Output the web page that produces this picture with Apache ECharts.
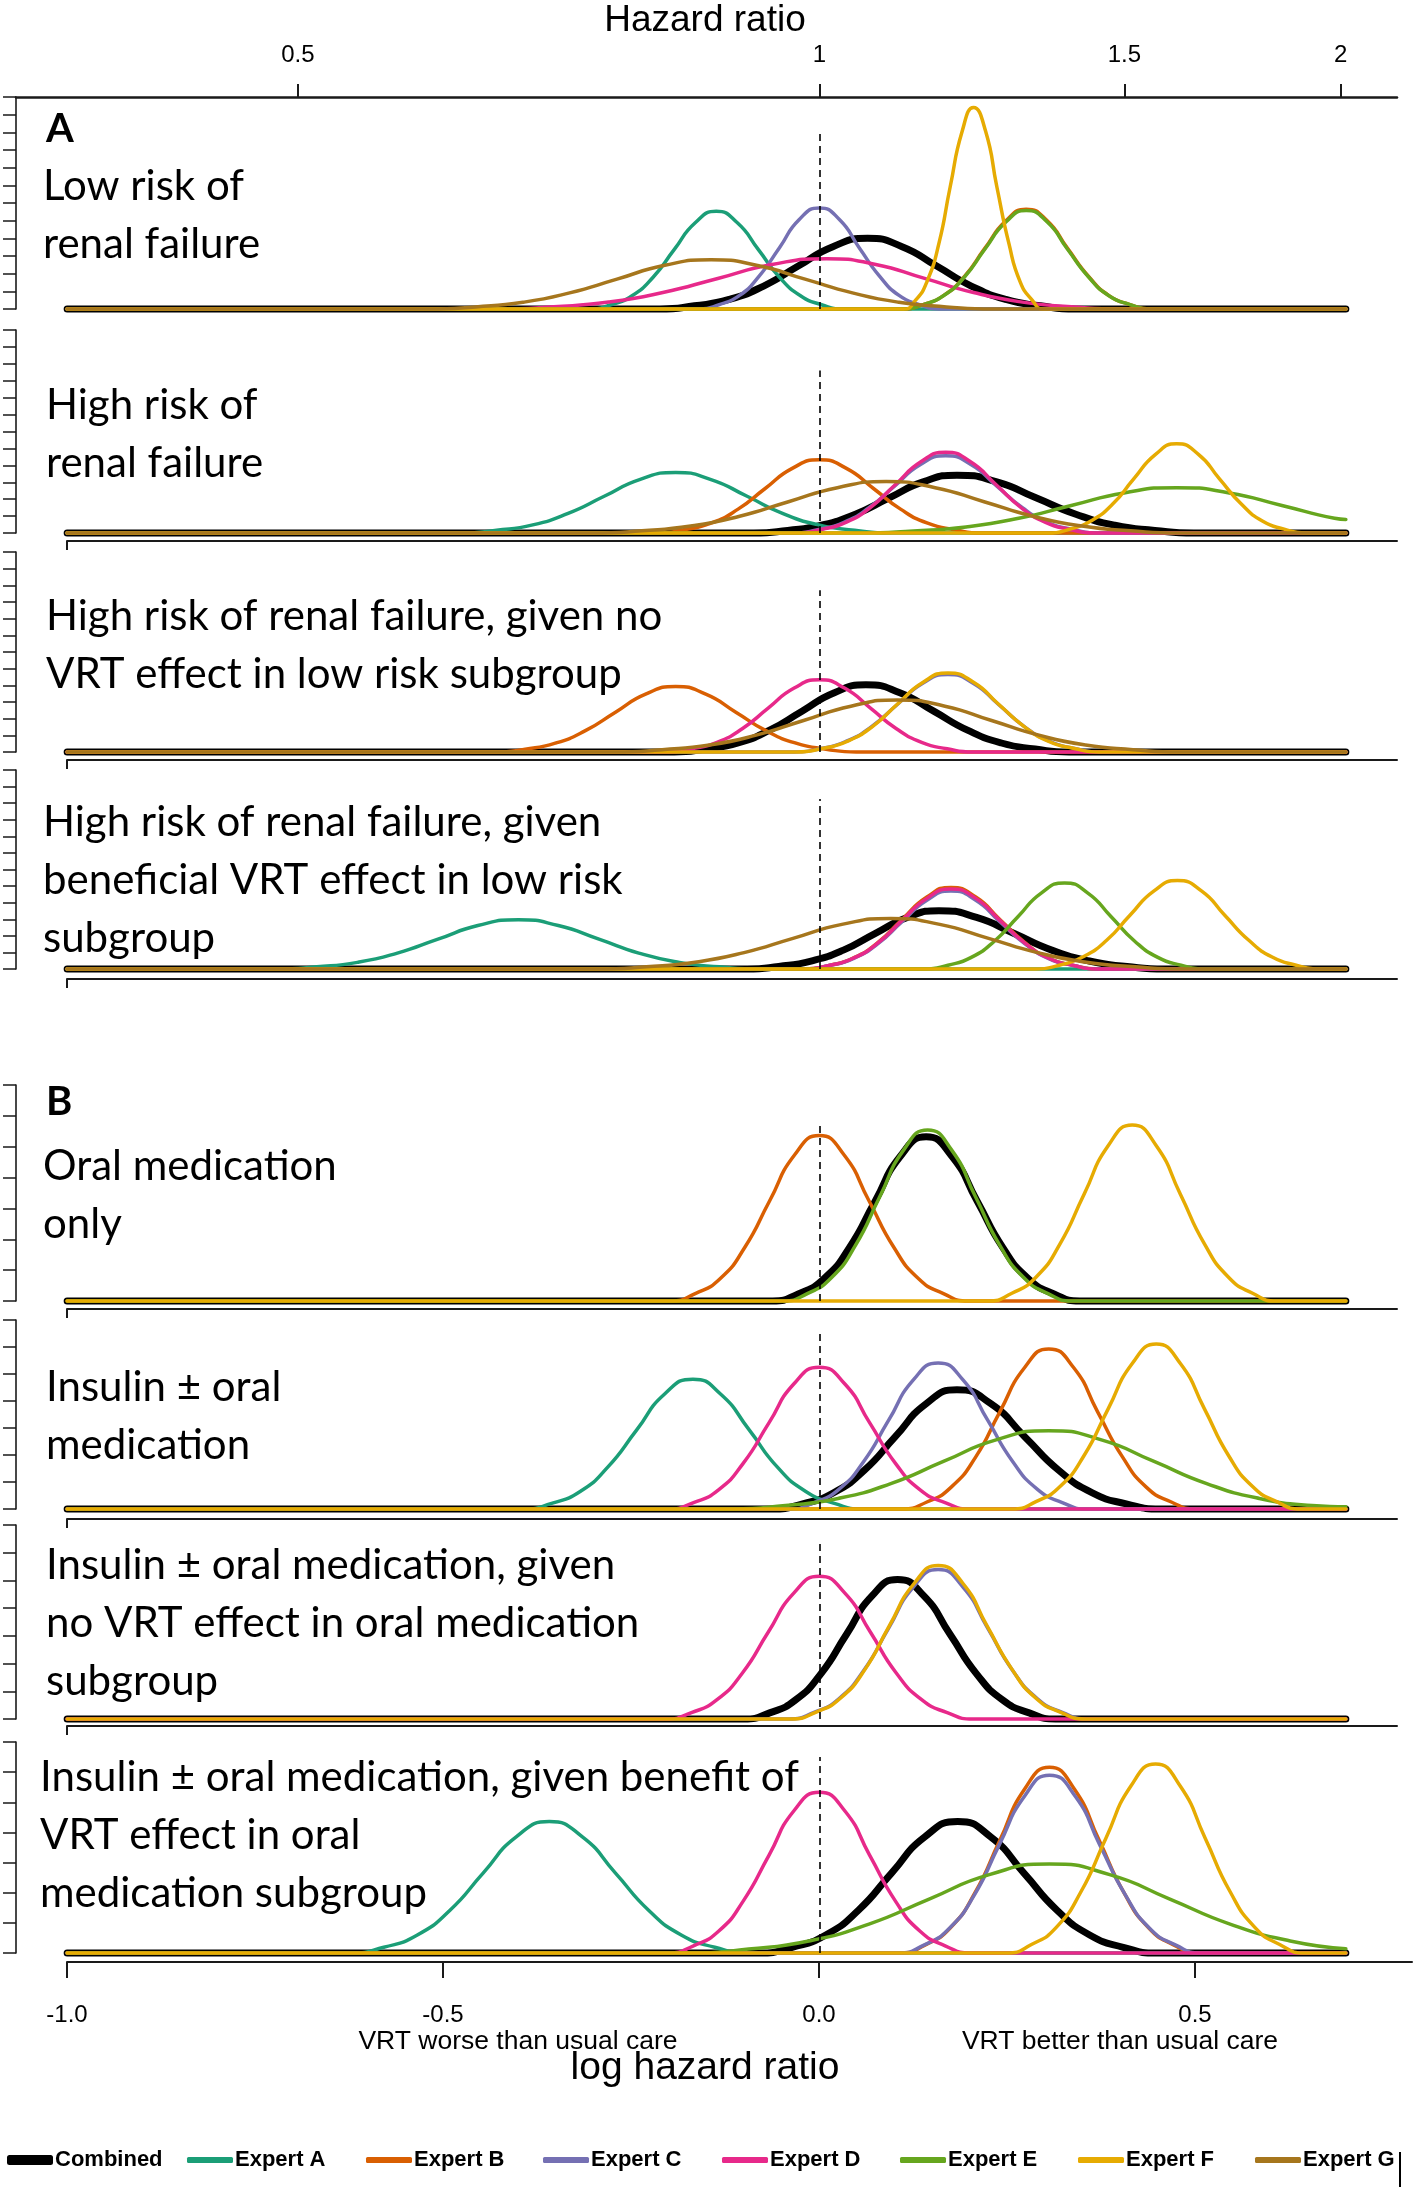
<!DOCTYPE html>
<html><head><meta charset="utf-8">
<script src="https://cdn.jsdelivr.net/npm/echarts@6/dist/echarts.min.js"></script>
<style>html,body{margin:0;padding:0;background:#fff}#c{width:1418px;height:2193px}</style>
</head><body><div id="c"></div>
<script>
// ---------------- DATA ----------------
const XMIN_DATA = -1.0, XMAX_DATA = 0.7;
const hrTicks = [0.5, 1, 1.5, 2];
const logTicks = [-1.0, -0.5, 0.0, 0.5];
const seriesNames = ['Combined','Expert A','Expert B','Expert C','Expert D','Expert E','Expert F','Expert G'];
const colors = ['#000000','#1B9E77','#D95F02','#7570B3','#E7298A','#66A61E','#E6AB02','#A6761D'];

// A1: Low risk of renal failure  [log HR, density]
const A1_Combined = [[-0.212,0],[-0.166,0.18],[-0.120,0.54],[-0.074,1.30],[-0.028,2.43],[0.018,3.53],[0.064,4.0],[0.110,3.53],[0.156,2.43],[0.202,1.30],[0.248,0.54],[0.294,0.18],[0.340,0]];
const A1_ExpertA = [[-0.305,0],[-0.277,0.24],[-0.249,0.75],[-0.221,1.80],[-0.193,3.36],[-0.165,4.88],[-0.137,5.53],[-0.109,4.88],[-0.081,3.36],[-0.053,1.80],[-0.025,0.75],[0.003,0.24],[0.031,0]];
const A1_ExpertB = [[0.110,0],[0.138,0.25],[0.165,0.76],[0.193,1.84],[0.220,3.43],[0.248,4.99],[0.275,5.65],[0.303,4.99],[0.330,3.43],[0.358,1.84],[0.385,0.76],[0.413,0.25],[0.440,0]];
const A1_ExpertC = [[-0.159,0],[-0.133,0.25],[-0.106,0.77],[-0.080,1.86],[-0.053,3.47],[-0.027,5.05],[0,5.72],[0.027,5.05],[0.053,3.47],[0.080,1.86],[0.106,0.77],[0.133,0.25],[0.159,0]];
const A1_ExpertD = [[-0.425,0],[-0.353,0.13],[-0.280,0.39],[-0.208,0.93],[-0.135,1.73],[-0.063,2.52],[0.010,2.85],[0.075,2.52],[0.140,1.73],[0.205,0.93],[0.270,0.39],[0.335,0.13],[0.400,0]];
const A1_ExpertE = [[0.110,0],[0.138,0.25],[0.165,0.75],[0.193,1.81],[0.220,3.38],[0.248,4.92],[0.275,5.57],[0.303,4.92],[0.330,3.38],[0.358,1.81],[0.385,0.75],[0.413,0.25],[0.440,0]];
const A1_ExpertF = [[0.112,0],[0.128,0.50],[0.143,1.54],[0.159,3.71],[0.174,6.92],[0.190,10.07],[0.205,11.4],[0.221,10.07],[0.236,6.92],[0.252,3.71],[0.267,1.54],[0.283,0.50],[0.298,0]];
const A1_ExpertG = [[-0.519,0],[-0.457,0.12],[-0.394,0.38],[-0.332,0.91],[-0.269,1.69],[-0.207,2.46],[-0.144,2.79],[-0.082,2.46],[-0.019,1.69],[0.044,0.91],[0.106,0.38],[0.169,0.12],[0.231,0]];

// A2: High risk of renal failure
const A2_Combined = [[-0.087,0],[-0.042,0.15],[0.003,0.46],[0.048,1.11],[0.093,2.08],[0.138,3.02],[0.183,3.42],[0.236,3.02],[0.288,2.08],[0.341,1.11],[0.393,0.46],[0.446,0.15],[0.498,0]];
const A2_ExpertA = [[-0.476,0],[-0.429,0.16],[-0.381,0.48],[-0.334,1.16],[-0.286,2.17],[-0.239,3.16],[-0.191,3.58],[-0.144,3.16],[-0.096,2.17],[-0.049,1.16],[-0.001,0.48],[0.047,0.16],[0.094,0]];
const A2_ExpertB = [[-0.216,0],[-0.180,0.19],[-0.144,0.58],[-0.108,1.41],[-0.072,2.63],[-0.036,3.82],[0,4.33],[0.036,3.82],[0.072,2.63],[0.108,1.41],[0.144,0.58],[0.180,0.19],[0.216,0]];
const A2_ExpertC = [[-0.036,0],[-0.002,0.20],[0.032,0.62],[0.066,1.49],[0.100,2.77],[0.134,4.04],[0.168,4.57],[0.202,4.04],[0.236,2.77],[0.270,1.49],[0.304,0.62],[0.338,0.20],[0.372,0]];
const A2_ExpertD = [[-0.030,0],[0.003,0.21],[0.036,0.64],[0.069,1.55],[0.102,2.90],[0.135,4.21],[0.168,4.77],[0.201,4.21],[0.234,2.90],[0.267,1.55],[0.300,0.64],[0.333,0.21],[0.366,0]];
const A2_ExpertE = [[0.055,0],[0.125,0.12],[0.195,0.36],[0.265,0.87],[0.335,1.63],[0.405,2.37],[0.475,2.68],[0.545,2.37],[0.615,1.63],[0.685,0.87],[0.700,0.80]];
const A2_ExpertF = [[0.304,0],[0.333,0.23],[0.361,0.71],[0.390,1.71],[0.418,3.20],[0.447,4.65],[0.475,5.27],[0.504,4.65],[0.532,3.20],[0.561,1.71],[0.589,0.71],[0.618,0.23],[0.646,0]];
const A2_ExpertG = [[-0.301,0],[-0.236,0.13],[-0.171,0.41],[-0.106,0.99],[-0.041,1.85],[0.024,2.68],[0.089,3.04],[0.154,2.68],[0.219,1.85],[0.284,0.99],[0.349,0.41],[0.414,0.13],[0.479,0]];

// A3: High risk, given no VRT effect in low risk subgroup
const A3_Combined = [[-0.193,0],[-0.151,0.18],[-0.108,0.54],[-0.066,1.31],[-0.023,2.45],[0.020,3.56],[0.062,4.03],[0.107,3.56],[0.152,2.45],[0.197,1.31],[0.242,0.54],[0.287,0.18],[0.332,0]];
const A3_ExpertB = [[-0.431,0],[-0.391,0.17],[-0.351,0.53],[-0.311,1.28],[-0.271,2.39],[-0.231,3.47],[-0.191,3.93],[-0.151,3.47],[-0.111,2.39],[-0.071,1.28],[-0.031,0.53],[0.009,0.17],[0.049,0]];
const A3_ExpertC = [[-0.033,0],[0.001,0.20],[0.035,0.63],[0.069,1.51],[0.103,2.82],[0.137,4.11],[0.171,4.65],[0.205,4.11],[0.239,2.82],[0.273,1.51],[0.307,0.63],[0.341,0.20],[0.375,0]];
const A3_ExpertD = [[-0.204,0],[-0.170,0.19],[-0.136,0.58],[-0.102,1.41],[-0.068,2.63],[-0.034,3.82],[0,4.33],[0.034,3.82],[0.068,2.63],[0.102,1.41],[0.136,0.58],[0.170,0.19],[0.204,0]];
const A3_ExpertF = [[-0.030,0],[0.004,0.21],[0.037,0.64],[0.071,1.54],[0.104,2.88],[0.138,4.19],[0.171,4.74],[0.205,4.19],[0.238,2.88],[0.272,1.54],[0.305,0.64],[0.339,0.21],[0.372,0]];
const A3_ExpertG = [[-0.271,0],[-0.209,0.14],[-0.146,0.42],[-0.084,1.01],[-0.021,1.89],[0.042,2.75],[0.104,3.12],[0.167,2.75],[0.229,1.89],[0.292,1.01],[0.354,0.42],[0.417,0.14],[0.479,0]];

// A4: High risk, given beneficial VRT effect in low risk subgroup
const A4_Combined = [[-0.096,0],[-0.054,0.15],[-0.011,0.48],[0.032,1.14],[0.074,2.14],[0.117,3.11],[0.159,3.52],[0.209,3.11],[0.259,2.14],[0.309,1.14],[0.359,0.48],[0.409,0.15],[0.459,0]];
const A4_ExpertA = [[-0.721,0],[-0.668,0.13],[-0.614,0.40],[-0.561,0.96],[-0.507,1.80],[-0.454,2.62],[-0.400,2.97],[-0.347,2.62],[-0.293,1.80],[-0.240,0.96],[-0.186,0.40],[-0.133,0.13],[-0.079,0]];
const A4_ExpertB = [[-0.020,0],[0.013,0.22],[0.045,0.66],[0.078,1.60],[0.110,2.99],[0.143,4.34],[0.175,4.92],[0.208,4.34],[0.240,2.99],[0.273,1.60],[0.305,0.66],[0.338,0.22],[0.370,0]];
const A4_ExpertC = [[-0.020,0],[0.013,0.21],[0.045,0.63],[0.078,1.53],[0.110,2.85],[0.143,4.15],[0.175,4.70],[0.208,4.15],[0.240,2.85],[0.273,1.53],[0.305,0.63],[0.338,0.21],[0.370,0]];
const A4_ExpertD = [[-0.020,0],[0.013,0.21],[0.045,0.65],[0.078,1.57],[0.110,2.93],[0.143,4.26],[0.175,4.82],[0.208,4.26],[0.240,2.93],[0.273,1.57],[0.305,0.65],[0.338,0.21],[0.370,0]];
const A4_ExpertE = [[0.140,0],[0.171,0.23],[0.202,0.70],[0.233,1.69],[0.264,3.15],[0.295,4.58],[0.326,5.19],[0.357,4.58],[0.388,3.15],[0.419,1.69],[0.450,0.70],[0.481,0.23],[0.512,0]];
const A4_ExpertF = [[0.287,0],[0.319,0.23],[0.350,0.72],[0.382,1.73],[0.413,3.24],[0.445,4.71],[0.476,5.33],[0.508,4.71],[0.539,3.24],[0.571,1.73],[0.602,0.72],[0.634,0.23],[0.665,0]];
const A4_ExpertG = [[-0.295,0],[-0.230,0.13],[-0.165,0.41],[-0.100,0.99],[-0.035,1.85],[0.030,2.69],[0.095,3.05],[0.160,2.69],[0.225,1.85],[0.290,0.99],[0.355,0.41],[0.420,0.13],[0.485,0]];

// B1: Oral medication only
const B1_Combined = [[-0.062,0],[-0.028,0.23],[0.006,0.72],[0.040,1.73],[0.074,3.23],[0.108,4.70],[0.142,5.32],[0.176,4.70],[0.210,3.23],[0.244,1.73],[0.278,0.72],[0.312,0.23],[0.346,0]];
const B1_ExpertB = [[-0.198,0],[-0.165,0.24],[-0.132,0.72],[-0.099,1.74],[-0.066,3.25],[-0.033,4.73],[0,5.36],[0.033,4.73],[0.066,3.25],[0.099,1.74],[0.132,0.72],[0.165,0.24],[0.198,0]];
const B1_ExpertE = [[-0.048,0],[-0.016,0.24],[0.016,0.75],[0.048,1.80],[0.080,3.36],[0.112,4.89],[0.144,5.54],[0.176,4.89],[0.208,3.36],[0.240,1.80],[0.272,0.75],[0.304,0.24],[0.336,0]];
const B1_ExpertF = [[0.224,0],[0.256,0.25],[0.288,0.77],[0.320,1.85],[0.352,3.46],[0.384,5.03],[0.416,5.70],[0.448,5.03],[0.480,3.46],[0.512,1.85],[0.544,0.77],[0.576,0.25],[0.608,0]];

// B2: Insulin ± oral medication
const B2_Combined = [[-0.063,0],[-0.022,0.19],[0.019,0.60],[0.060,1.44],[0.101,2.68],[0.142,3.90],[0.183,4.42],[0.228,3.90],[0.273,2.68],[0.318,1.44],[0.363,0.60],[0.408,0.19],[0.453,0]];
const B2_ExpertA = [[-0.393,0],[-0.356,0.21],[-0.318,0.65],[-0.281,1.56],[-0.243,2.92],[-0.206,4.25],[-0.168,4.81],[-0.131,4.25],[-0.093,2.92],[-0.056,1.56],[-0.018,0.65],[0.020,0.21],[0.057,0]];
const B2_ExpertB = [[0.110,0],[0.143,0.26],[0.175,0.80],[0.208,1.93],[0.240,3.60],[0.273,5.24],[0.305,5.93],[0.338,5.24],[0.370,3.60],[0.403,1.93],[0.435,0.80],[0.468,0.26],[0.500,0]];
const B2_ExpertC = [[-0.040,0],[-0.007,0.24],[0.026,0.73],[0.059,1.76],[0.092,3.28],[0.125,4.78],[0.158,5.41],[0.191,4.78],[0.224,3.28],[0.257,1.76],[0.290,0.73],[0.323,0.24],[0.356,0]];
const B2_ExpertD = [[-0.201,0],[-0.168,0.23],[-0.134,0.71],[-0.101,1.70],[-0.067,3.19],[-0.034,4.63],[0,5.25],[0.034,4.63],[0.067,3.19],[0.101,1.70],[0.134,0.71],[0.168,0.23],[0.201,0]];
const B2_ExpertE = [[-0.115,0],[-0.045,0.13],[0.025,0.39],[0.095,0.94],[0.165,1.76],[0.235,2.56],[0.305,2.90],[0.375,2.56],[0.445,1.76],[0.515,0.94],[0.585,0.39],[0.655,0.13],[0.700,0.08]];
const B2_ExpertF = [[0.256,0],[0.288,0.27],[0.320,0.83],[0.352,1.98],[0.384,3.71],[0.416,5.39],[0.448,6.11],[0.480,5.39],[0.512,3.71],[0.544,1.98],[0.576,0.83],[0.608,0.27],[0.640,0]];

// B3: Insulin ± oral medication, given no VRT effect in oral medication subgroup
const B3_Combined = [[-0.100,0],[-0.066,0.22],[-0.032,0.68],[0.002,1.63],[0.036,3.05],[0.070,4.44],[0.104,5.03],[0.139,4.44],[0.174,3.05],[0.209,1.63],[0.244,0.68],[0.279,0.22],[0.314,0]];
const B3_ExpertC = [[-0.040,0],[-0.007,0.24],[0.026,0.73],[0.059,1.75],[0.092,3.27],[0.125,4.76],[0.158,5.39],[0.191,4.76],[0.224,3.27],[0.257,1.75],[0.290,0.73],[0.323,0.24],[0.356,0]];
const B3_ExpertD = [[-0.204,0],[-0.170,0.23],[-0.136,0.70],[-0.102,1.67],[-0.068,3.13],[-0.034,4.54],[0,5.15],[0.034,4.54],[0.068,3.13],[0.102,1.67],[0.136,0.70],[0.170,0.23],[0.204,0]];
const B3_ExpertF = [[-0.037,0],[-0.005,0.24],[0.028,0.75],[0.061,1.80],[0.093,3.36],[0.126,4.89],[0.158,5.54],[0.191,4.89],[0.223,3.36],[0.256,1.80],[0.288,0.75],[0.321,0.24],[0.353,0]];

// B4: Insulin ± oral medication, given benefit of VRT effect in oral medication subgroup
const B4_Combined = [[-0.080,0],[-0.036,0.19],[0.008,0.59],[0.052,1.42],[0.096,2.65],[0.140,3.85],[0.184,4.36],[0.228,3.85],[0.272,2.65],[0.316,1.42],[0.360,0.59],[0.404,0.19],[0.448,0]];
const B4_ExpertA = [[-0.623,0],[-0.579,0.19],[-0.535,0.59],[-0.491,1.42],[-0.447,2.65],[-0.403,3.85],[-0.359,4.36],[-0.315,3.85],[-0.271,2.65],[-0.227,1.42],[-0.183,0.59],[-0.139,0.19],[-0.095,0]];
const B4_ExpertB = [[0.108,0],[0.141,0.27],[0.174,0.83],[0.207,2.00],[0.240,3.74],[0.273,5.44],[0.306,6.16],[0.339,5.44],[0.372,3.74],[0.405,2.00],[0.438,0.83],[0.471,0.27],[0.504,0]];
const B4_ExpertC = [[0.105,0],[0.139,0.26],[0.172,0.80],[0.206,1.92],[0.239,3.58],[0.273,5.21],[0.306,5.90],[0.340,5.21],[0.373,3.58],[0.407,1.92],[0.440,0.80],[0.474,0.26],[0.507,0]];
const B4_ExpertD = [[-0.201,0],[-0.168,0.23],[-0.134,0.72],[-0.101,1.73],[-0.067,3.24],[-0.034,4.71],[0,5.33],[0.034,4.71],[0.067,3.24],[0.101,1.73],[0.134,0.72],[0.168,0.23],[0.201,0]];
const B4_ExpertE = [[-0.174,0],[-0.094,0.13],[-0.014,0.40],[0.066,0.96],[0.146,1.79],[0.226,2.60],[0.306,2.95],[0.386,2.60],[0.466,1.79],[0.546,0.96],[0.626,0.40],[0.700,0.14]];
const B4_ExpertF = [[0.249,0],[0.282,0.28],[0.315,0.85],[0.348,2.04],[0.381,3.81],[0.414,5.53],[0.447,6.27],[0.480,5.53],[0.513,3.81],[0.546,2.04],[0.579,0.85],[0.612,0.28],[0.645,0]];

const panelCurves = {
  A1: [A1_Combined, A1_ExpertA, A1_ExpertB, A1_ExpertC, A1_ExpertD, A1_ExpertE, A1_ExpertF, A1_ExpertG],
  A2: [A2_Combined, A2_ExpertA, A2_ExpertB, A2_ExpertC, A2_ExpertD, A2_ExpertE, A2_ExpertF, A2_ExpertG],
  A3: [A3_Combined, null, A3_ExpertB, A3_ExpertC, A3_ExpertD, null, A3_ExpertF, A3_ExpertG],
  A4: [A4_Combined, A4_ExpertA, A4_ExpertB, A4_ExpertC, A4_ExpertD, A4_ExpertE, A4_ExpertF, A4_ExpertG],
  B1: [B1_Combined, null, B1_ExpertB, null, null, B1_ExpertE, B1_ExpertF, null],
  B2: [B2_Combined, B2_ExpertA, B2_ExpertB, B2_ExpertC, B2_ExpertD, B2_ExpertE, B2_ExpertF, null],
  B3: [B3_Combined, null, null, B3_ExpertC, B3_ExpertD, null, B3_ExpertF, null],
  B4: [B4_Combined, B4_ExpertA, B4_ExpertB, B4_ExpertC, B4_ExpertD, B4_ExpertE, B4_ExpertF, null]
};
const dashTops = [10.1, 9.6, 9.7, 10.25, 5.74, 6.52, 6.43, 6.5];

const panelLabels = {
  A1: ['Low risk of', 'renal failure'],
  A2: ['High risk of', 'renal failure'],
  A3: ['High risk of renal failure, given no', 'VRT effect in low risk subgroup'],
  A4: ['High risk of renal failure, given', 'beneficial VRT effect in low risk', 'subgroup'],
  B1: ['Oral medication', 'only'],
  B2: ['Insulin ± oral', 'medication'],
  B3: ['Insulin ± oral medication, given', 'no VRT effect in oral medication', 'subgroup'],
  B4: ['Insulin ± oral medication, given benefit of', 'VRT effect in oral', 'medication subgroup']
};

// ---------------- LAYOUT ----------------
const layout = [
  {id:'A1', top:97,   base:309,  ymax:12, line:null, lx:43, ly:186},
  {id:'A2', top:330,  base:533,  ymax:12, line:541,  lx:46, ly:405},
  {id:'A3', top:552,  base:752,  ymax:12, line:760,  lx:46, ly:616},
  {id:'A4', top:770,  base:969,  ymax:12, line:979,  lx:43, ly:822},
  {id:'B1', top:1085, base:1301, ymax:7,  line:1309, lx:43, ly:1166},
  {id:'B2', top:1320, base:1509, ymax:7,  line:1519, lx:46, ly:1387},
  {id:'B3', top:1525, base:1719, ymax:7,  line:1726, lx:46, ly:1565},
  {id:'B4', top:1742, base:1953, ymax:7,  line:1962, lx:40, ly:1777}
];
const GL = 16, GW = 1381, AX_MIN = -1.068, AX_MAX = 0.768;
const legendX = [7, 187, 366, 543, 722, 900, 1078, 1255];

function full(pts) {
  const out = pts.slice();
  if (out[0][0] > XMIN_DATA) out.unshift([XMIN_DATA, 0]);
  if (out[out.length - 1][0] < XMAX_DATA) out.push([XMAX_DATA, 0]);
  return out;
}

const grid = [], xAxis = [], yAxis = [], series = [], graphic = [];
const axisColor = '#1a1a1a';

layout.forEach((p, i) => {
  grid.push({left: GL, width: GW, top: p.top, height: p.base - p.top});
  if (i === 0) {
    xAxis.push({
      gridIndex: i, type: 'value', position: 'top', min: AX_MIN, max: AX_MAX,
      axisLine: {show: true, onZero: false, lineStyle: {color: axisColor, width: 2.5}},
      axisTick: {show: true, length: 13, inside: false, customValues: hrTicks.map(Math.log), lineStyle: {color: axisColor, width: 2}},
      axisLabel: {show: true, margin: 30, customValues: hrTicks.map(Math.log), fontFamily: 'Liberation Sans', fontSize: 24, color: '#000',
        formatter: v => String(+Math.exp(v).toFixed(2))},
      splitLine: {show: false}
    });
  } else {
    xAxis.push({gridIndex: i, type: 'value', min: AX_MIN, max: AX_MAX, show: false, axisLine: {onZero: false}, splitLine: {show: false}});
  }
  yAxis.push({
    gridIndex: i, type: 'value', min: 0, max: p.ymax, interval: 1, position: 'left',
    axisLine: {show: true, onZero: false, lineStyle: {color: axisColor, width: 1.6}},
    axisTick: {show: true, length: 13, inside: false, lineStyle: {color: axisColor, width: 1.5}},
    axisLabel: {show: false}, splitLine: {show: false}
  });
  const curves = panelCurves[p.id];
  let first = true;
  curves.forEach((arr, k) => {
    if (!arr) return;
    const s = {
      type: 'line', name: seriesNames[k], xAxisIndex: i, yAxisIndex: i,
      data: full(arr), smooth: 0.55, showSymbol: false, symbol: 'none', clip: false,
      silent: true, animation: false,
      lineStyle: {color: colors[k], width: k === 0 ? 7 : 3.5, cap: 'round', join: 'round'},
      itemStyle: {color: colors[k]}
    };
    if (first) {
      s.markLine = {
        silent: true, symbol: ['none', 'none'], animation: false, label: {show: false},
        lineStyle: {color: '#000', type: [7, 5], width: 1.6},
        data: [[{coord: [0, 0]}, {coord: [0, dashTops[i]]}]]
      };
      first = false;
    }
    series.push(s);
  });
  panelLabels[p.id].forEach((t, j) => {
    graphic.push({type: 'text', x: p.lx, y: p.ly + j * 58, silent: true,
      style: {text: t, font: '42px Lato', fill: '#000', textAlign: 'left', textVerticalAlign: 'middle'}});
  });
});

// bottom axis lines of each panel
layout.forEach((p, i) => {
  if (p.line == null) return;
  const main = i === layout.length - 1;
  const w = main ? 1345 : 1330;
  const gi = grid.length;
  grid.push({left: 67, width: w, top: p.line - 1, height: 1});
  xAxis.push({
    gridIndex: gi, type: 'value', position: 'bottom', min: -1, max: -1 + w / 752,
    axisLine: {show: true, onZero: false, lineStyle: {color: axisColor, width: 2}},
    axisTick: {show: true, length: main ? 16 : 9, inside: false, customValues: main ? logTicks : [logTicks[0]], lineStyle: {color: axisColor, width: 2}},
    axisLabel: main ? {show: true, margin: 41, customValues: logTicks, fontFamily: 'Liberation Sans', fontSize: 24, color: '#000', formatter: v => v.toFixed(1)} : {show: false},
    splitLine: {show: false}
  });
  yAxis.push({gridIndex: gi, type: 'value', show: false, min: 0, max: 1});
});

// titles and annotations
graphic.push({type: 'text', x: 705, y: 21, silent: true, style: {text: 'Hazard ratio', font: '37px "Liberation Sans"', fill: '#000', textAlign: 'center', textVerticalAlign: 'middle'}});
graphic.push({type: 'text', x: 705, y: 2068, silent: true, style: {text: 'log hazard ratio', font: '39px "Liberation Sans"', fill: '#000', textAlign: 'center', textVerticalAlign: 'middle'}});
graphic.push({type: 'text', x: 46, y: 129, silent: true, style: {text: 'A', font: 'bold 40px Lato', fill: '#000', textVerticalAlign: 'middle'}});
graphic.push({type: 'text', x: 46, y: 1102, silent: true, style: {text: 'B', font: 'bold 40px Lato', fill: '#000', textVerticalAlign: 'middle'}});
graphic.push({type: 'text', x: 518, y: 2042, silent: true, style: {text: 'VRT worse than usual care', font: '26.5px "Liberation Sans"', fill: '#000', textAlign: 'center', textVerticalAlign: 'middle'}});
graphic.push({type: 'text', x: 1120, y: 2042, silent: true, style: {text: 'VRT better than usual care', font: '26.5px "Liberation Sans"', fill: '#000', textAlign: 'center', textVerticalAlign: 'middle'}});
graphic.push({type: 'line', silent: true, shape: {x1: 1400, y1: 2152, x2: 1400, y2: 2187}, style: {stroke: '#000', lineWidth: 2}});

const legend = seriesNames.map((n, i) => ({
  data: [n], left: legendX[i], top: 2149, icon: 'roundRect', itemWidth: 46, itemHeight: i === 0 ? 10 : 6,
  selectedMode: false, padding: 0,
  textStyle: {fontFamily: 'Liberation Sans', fontWeight: 'bold', fontSize: 22, color: '#000', padding: [0, 0, 0, -3]}
}));

const chart = echarts.init(document.getElementById('c'), null, {renderer: 'canvas', width: 1418, height: 2193});
chart.setOption({animation: false, backgroundColor: '#fff', grid, xAxis, yAxis, series, legend, graphic});
</script>
</body></html>
